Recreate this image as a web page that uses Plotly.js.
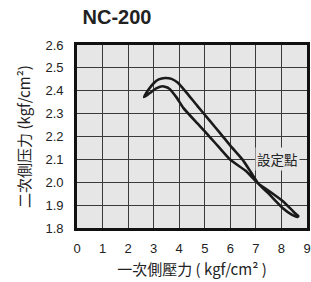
<!DOCTYPE html>
<html><head><meta charset="utf-8">
<script src="https://cdn.plot.ly/plotly-3.0.1.min.js"></script>
<style>html,body{margin:0;padding:0;background:#fff}#chart{width:311px;height:282px}</style>
</head><body><div id="chart"></div>
<script>
// Loop curve: primary pressure (x) vs secondary pressure (y)
const primaryPressure = [2.62, 2.8, 3.0, 3.2, 3.45, 3.7, 3.95, 4.3, 4.7, 5.2, 5.6, 6.0, 6.47, 6.8, 7.09, 7.5, 8.07, 8.4, 8.62, 8.66, 8.5, 8.07, 7.5, 7.09, 6.6, 6.0, 5.5, 5.07, 4.7, 4.16, 3.9, 3.6, 3.35, 3.1, 2.85, 2.62];
const secondaryPressure = [2.372, 2.405, 2.433, 2.45, 2.456, 2.452, 2.435, 2.39, 2.335, 2.268, 2.215, 2.16, 2.1, 2.045, 1.995, 1.95, 1.885, 1.858, 1.848, 1.852, 1.868, 1.916, 1.963, 1.995, 2.05, 2.098, 2.16, 2.214, 2.258, 2.325, 2.37, 2.41, 2.42, 2.41, 2.39, 2.372];
const xTicks = [0,1,2,3,4,5,6,7,8,9];
const yTicks = [1.8,1.9,2.0,2.1,2.2,2.3,2.4,2.5,2.6];
const yTickText = ['1.8','1.9','2.0','2.1','2.2','2.3','2.4','2.5','2.6'];
const setPointLabel = '設定點';
const setPointPos = [7.84, 2.1];

const fontLatin = 'Liberation Sans, Arial, sans-serif';
const fontCJK = 'Noto Sans CJK TC, Liberation Sans, sans-serif';

const trace = {
  x: primaryPressure, y: secondaryPressure,
  mode: 'lines', type: 'scatter',
  line: {color: '#1a1a1a', width: 2.6, shape: 'spline', smoothing: 0.5},
  hoverinfo: 'skip'
};

const layout = {
  width: 311, height: 282,
  margin: {l: 77, r: 4, t: 45, b: 54},
  paper_bgcolor: '#ffffff',
  plot_bgcolor: '#e6e6e6',
  showlegend: false,
  title: {text: '<b>NC-200</b>', font: {family: fontLatin, size: 20, color: '#222'},
          x: 117/311, xref: 'container', xanchor: 'center', y: 1 - 17/282, yref: 'container', yanchor: 'middle'},
  xaxis: {
    range: [0, 9], tickvals: xTicks, ticktext: xTicks.map(String),
    showgrid: true, gridcolor: '#3a3a3a', gridwidth: 1.2,
    zeroline: false, showline: true, linecolor: '#111', linewidth: 2.8, mirror: true,
    ticks: '', tickfont: {family: fontLatin, size: 13, color: '#222'},
    ticklabelstandoff: 7,
    title: {text: '一次側壓力 ( kgf/cm² )', font: {family: fontCJK, size: 15, color: '#222'}, standoff: 9}
  },
  yaxis: {
    range: [1.8, 2.6], tickvals: yTicks, ticktext: yTickText,
    showgrid: true, gridcolor: '#3a3a3a', gridwidth: 1.2,
    zeroline: false, showline: true, linecolor: '#111', linewidth: 2.8, mirror: true,
    ticks: '', tickfont: {family: fontLatin, size: 13, color: '#222'},
    ticklabelstandoff: 8,
    title: {text: '二次側压力 (kgf/cm²)', font: {family: fontCJK, size: 15, color: '#222'}, standoff: 12}
  },
  annotations: [{
    x: setPointPos[0], y: setPointPos[1], xref: 'x', yref: 'y',
    text: setPointLabel, showarrow: false,
    font: {family: fontCJK, size: 13.5, color: '#222'},
    bgcolor: '#e6e6e6', borderpad: 1
  }]
};

Plotly.newPlot('chart', [trace], layout, {displayModeBar: false, staticPlot: true});
</script></body></html>
